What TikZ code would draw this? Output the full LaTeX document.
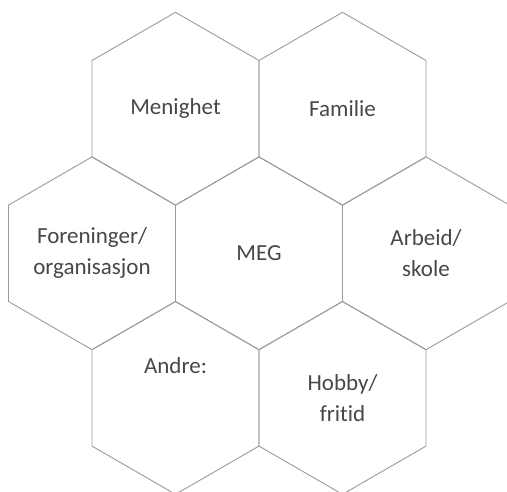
\documentclass[tikz,border=0pt]{standalone}
\usepackage{fontspec}
\setmainfont{Carlito}[Ligatures=NoCommon]
\usetikzlibrary{shapes.geometric}
\definecolor{hexline}{HTML}{9A9A9A}
\definecolor{hextext}{HTML}{474747}
\begin{document}
\begin{tikzpicture}[x=1pt,y=-1pt,
  hexcell/.style={draw=hexline, line width=0.9pt, regular polygon, regular polygon sides=6,
    shape border rotate=30, minimum size=192.8pt, inner sep=0pt, outer sep=0pt,
    text=hextext, align=center, font=\fontsize{23}{31}\selectfont},
  hexlabel/.style={text=hextext, align=center, inner sep=0pt, font=\fontsize{23}{31}\selectfont}]
\useasboundingbox (0,0) rectangle (507,491);
\clip (0,0) rectangle (507,491);
\node[hexcell] (menighet) at (175.5,108.7) {Menighet};
\node[hexcell] (familie) at (342.5,108.7) {Familie};
\node[hexcell] (foreninger) at (92,253.3) {Foreninger/\\organisasjon};
\node[hexcell] (meg) at (259,253.3) {MEG};
\node[hexcell] (arbeid) at (426,253.3) {Arbeid/\\skole};
\node[hexcell] (andre) at (175.5,397.9) {};
\node[hexcell] (hobby) at (342.5,397.9) {Hobby/\\fritid};
\node[hexlabel, anchor=base] (andretext) at ([yshift=24.6pt]andre.center) {Andre:};
\end{tikzpicture}
\end{document}
